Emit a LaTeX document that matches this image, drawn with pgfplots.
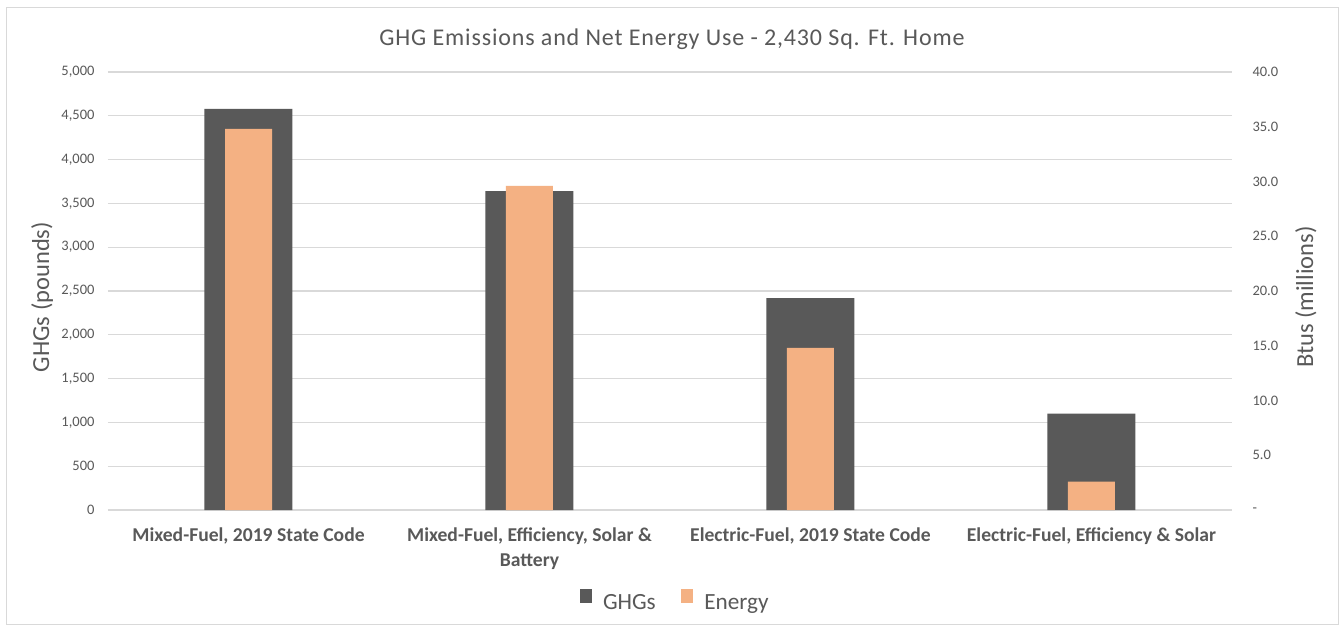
\documentclass[border=0pt]{standalone}
\usepackage{pgfplots}
\pgfplotsset{compat=1.18}
\usepackage{fontspec}
\setmainfont{Carlito}
\newfontfamily\titlefont[LetterSpace=3.5]{Carlito}
\definecolor{ghg}{HTML}{595959}
\definecolor{nrg}{HTML}{F4B183}
\definecolor{txt}{HTML}{595959}
\definecolor{grd}{HTML}{D9D9D9}
\begin{document}
\begin{tikzpicture}
\path[use as bounding box, fill=white] (0pt,0pt) rectangle (1340pt,625pt);
\draw[grd, line width=1pt] (6pt,0.5pt) rectangle (1338pt,617pt);
\begin{axis}[
  at={(108pt,115pt)}, anchor=south west, scale only axis,
  width=1124pt, height=438pt,
  xmin=-0.5, xmax=3.5, ymin=0, ymax=5000,
  xtick={0,1,2,3},
  xticklabels={{Mixed-Fuel, 2019 State Code},{Mixed-Fuel, Efficiency, Solar \&\\Battery},{Electric-Fuel, 2019 State Code},{Electric-Fuel, Efficiency \& Solar}},
  xticklabel style={font=\fontsize{19.6}{25}\selectfont\bfseries, text=txt, align=center, yshift=-14pt},
  ytick={0,500,...,5000},
  yticklabels={0,500,{1,000},{1,500},{2,000},{2,500},{3,000},{3,500},{4,000},{4,500},{5,000}},
  yticklabel style={font=\fontsize{14.5}{16}\selectfont, text=txt, xshift=-10pt},
  axis line style={draw=none}, major tick length=0pt,
  ymajorgrids, grid style={grd, line width=1.2pt},
  ylabel={GHGs (pounds)},
  every axis y label/.style={at={(axis description cs:-0.0587,0.486)}, anchor=center, rotate=90, font=\fontsize{24.5}{26}\selectfont, text=txt},
  ybar, bar width=88pt,
]
\addplot[fill=ghg, draw=none] coordinates {(0,4580) (1,3640) (2,2420) (3,1100)};
\end{axis}
\begin{axis}[
  at={(108pt,115pt)}, anchor=south west, scale only axis,
  width=1124pt, height=438pt,
  xmin=-0.5, xmax=3.5, ymin=0, ymax=40,
  axis x line=none, axis y line*=right, y axis line style={draw=none},
  major tick length=0pt,
  ytick={0,5,...,40},
  yticklabels={-,5.0,10.0,15.0,20.0,25.0,30.0,35.0,40.0},
  yticklabel style={font=\fontsize{14.5}{16}\selectfont, text=txt, anchor=west, xshift=17pt},
  ylabel={Btus (millions)},
  every axis y label/.style={at={(axis description cs:1.0658,0.486)}, anchor=center, rotate=90, font=\fontsize{24.5}{26}\selectfont, text=txt},
  ybar, bar width=47pt,
  legend style={at={(0.5036,-0.2055)}, anchor=center, draw=none, fill=none, legend columns=2,
    font=\fontsize{23.2}{25}\selectfont, text=txt, nodes={inner sep=0pt},
    /tikz/every odd column/.append style={column sep=11pt},
    /tikz/every even column/.append style={column sep=25pt}},
  legend image code/.code={\fill[#1] (0pt,0pt) rectangle (12.5pt,13.5pt);},
  legend entries={GHGs,Energy},
]
\addlegendimage{fill=ghg, draw=none}
\addplot[fill=nrg, draw=none] coordinates {(0,34.8) (1,29.6) (2,14.8) (3,2.6)};
\end{axis}
\node[anchor=base, text=txt, font=\fontsize{24}{26}\titlefont] at (672pt,579pt) {GHG Emissions and Net Energy Use - 2,430 Sq. Ft. Home};
\end{tikzpicture}
\end{document}
